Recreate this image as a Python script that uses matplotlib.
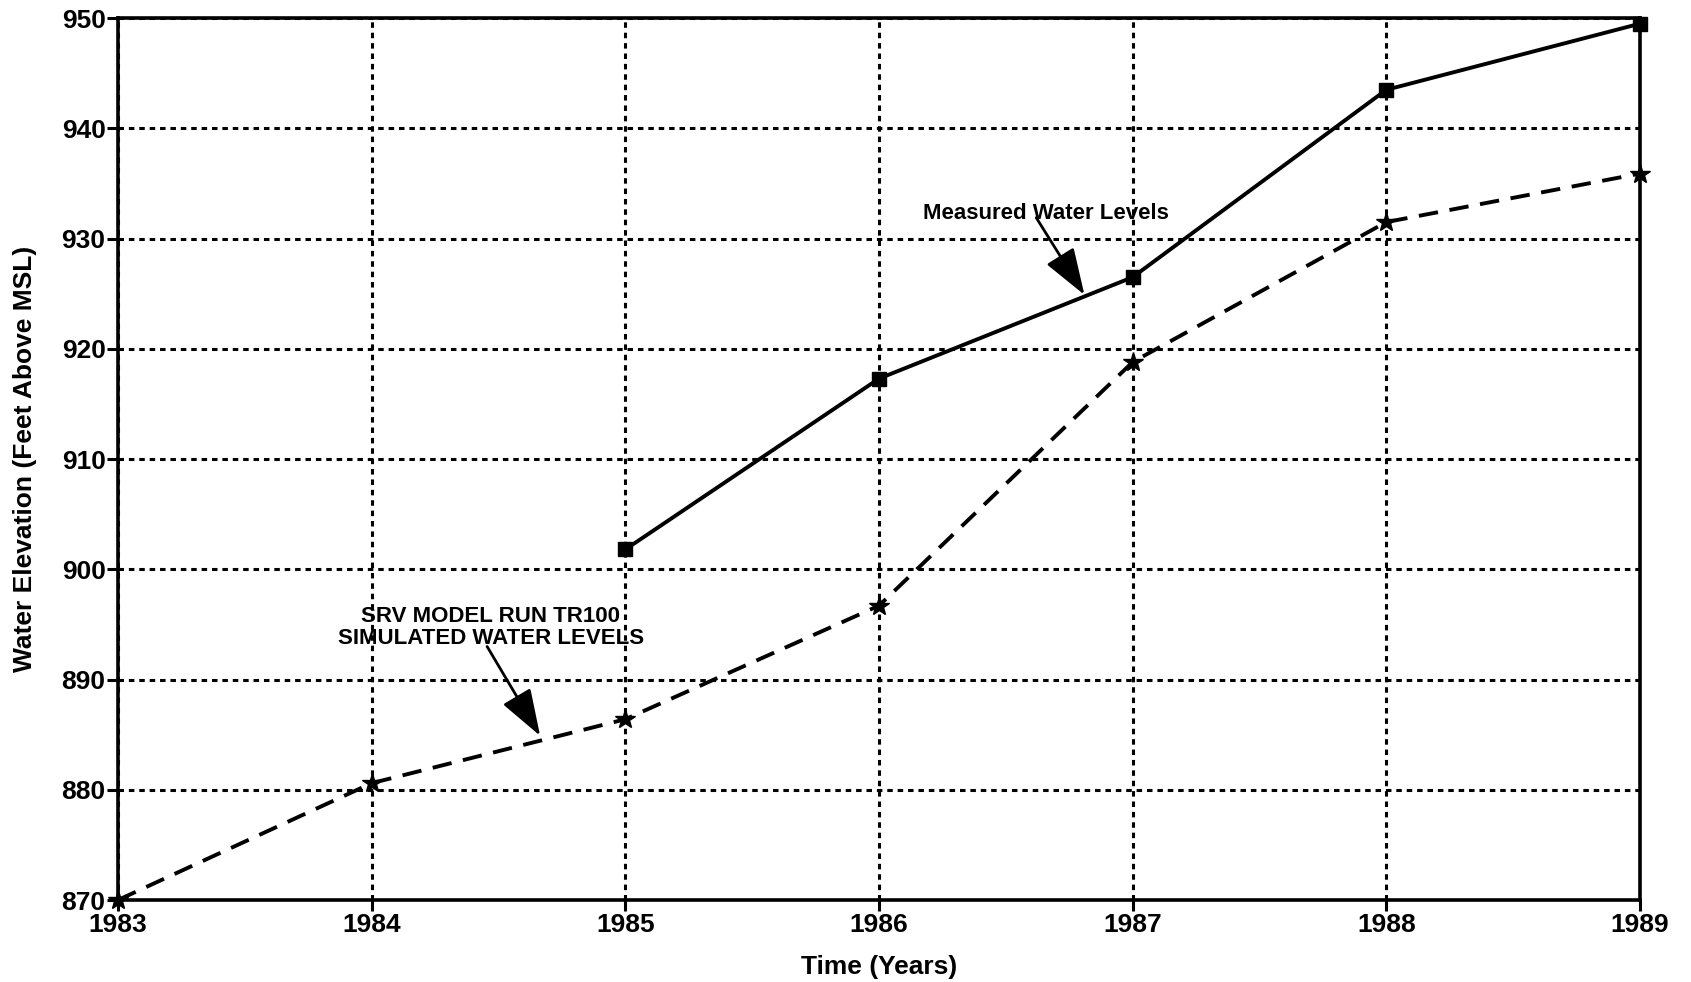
import matplotlib.pyplot as plt

# Water level data
years = [1983, 1984, 1985, 1986, 1987, 1988, 1989]
measured_years = [1985, 1986, 1987, 1988, 1989]
measured = [901.8, 917.3, 926.5, 943.5, 949.5]
simulated = [870.0, 880.6, 886.4, 896.7, 918.8, 931.5, 935.9]

plt.rcParams["font.family"] = ["Liberation Sans", "DejaVu Sans"]

fig = plt.figure(figsize=(16.91, 9.82), dpi=100)
ax = fig.add_axes([0.0698, 0.0835, 0.9, 0.898])

ax.plot(measured_years, measured, color="black", linewidth=2.8, marker="s",
        markersize=10, zorder=4, clip_on=False)
ax.plot(years, simulated, color="black", linewidth=2.8, linestyle=(0, (5, 3)),
        marker="*", markersize=15, zorder=4, clip_on=False)

ax.set_xlim(1983, 1989)
ax.set_ylim(870, 950)
ax.set_xticks(years)
ax.set_yticks(range(870, 951, 10))
ax.grid(True, color="black", linestyle=(0, (1.8, 1.6)), linewidth=2.2)
for s in ax.spines.values():
    s.set_linewidth(2.6)
ax.tick_params(direction="out", length=8, width=2.2, labelsize=19, pad=1)
for lab in ax.get_xticklabels() + ax.get_yticklabels():
    lab.set_fontweight("bold")

ax.set_xlabel("Time (Years)", fontsize=19, fontweight="bold")
ax.set_ylabel("Water Elevation (Feet Above MSL)", fontsize=19, fontweight="bold")
ax.xaxis.set_label_coords(0.5, -0.062)
ax.yaxis.set_label_coords(-0.053, 0.5)

arrow = dict(arrowstyle="-|>,head_length=1.45,head_width=0.5", color="black",
             linewidth=2.0, mutation_scale=20, shrinkA=0, shrinkB=0)

# Measured label and pointer
ax.text(1986.66, 932.3, "Measured Water Levels", ha="center", va="center",
        fontsize=16, fontweight="bold", zorder=5)
ax.annotate("", xy=(1986.81, 924.9), xytext=(1986.62, 931.9), arrowprops=arrow, zorder=5)

# Simulated label and pointer
ax.text(1984.47, 894.7, "SRV MODEL RUN TR100\nSIMULATED WATER LEVELS", ha="center",
        va="center", fontsize=16, fontweight="bold", linespacing=1.05, zorder=5)
ax.annotate("", xy=(1984.664, 884.9), xytext=(1984.455, 893.0), arrowprops=arrow, zorder=5)

fig.savefig("out.png", dpi=100)
